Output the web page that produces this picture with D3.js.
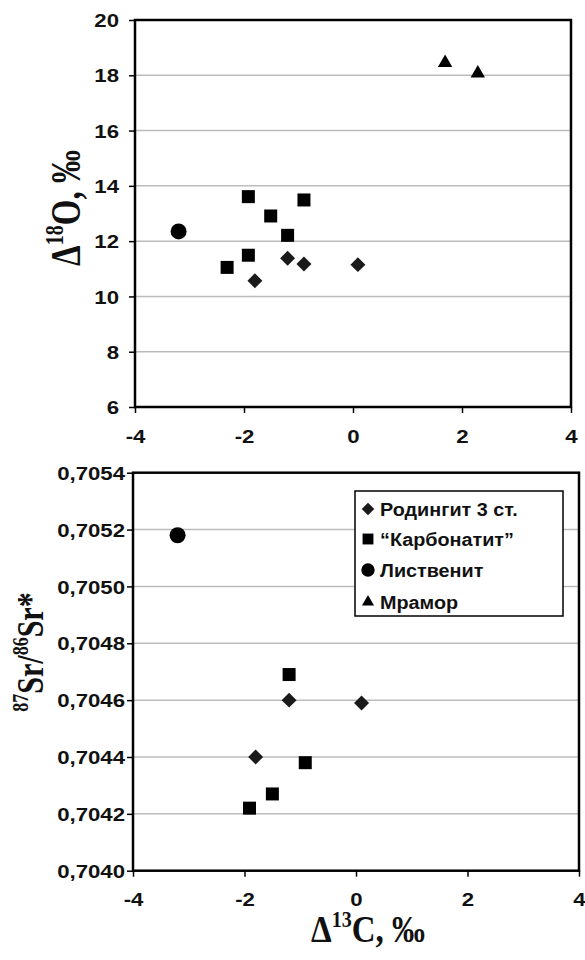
<!DOCTYPE html>
<html><head><meta charset="utf-8">
<script src="https://cdn.jsdelivr.net/npm/d3@7"></script>
<style>body{margin:0;background:#fff}svg{display:block}</style>
</head><body>
<svg id="c" width="585" height="960"></svg>
<script>
// ---- data ----
const seriesNames = ["Родингит 3 ст.", "\u201CКарбонатит\u201D", "Лиственит", "Мрамор"];
const symbols = ["diamond", "square", "circle", "triangle"];

// top panel: d13C vs d18O
const rodingiteO = [[-1.2, 11.38], [-0.9, 11.17], [-1.8, 10.57], [0.09, 11.15]];
const carbonatiteO = [[-1.92, 13.61], [-1.51, 12.91], [-0.9, 13.49], [-1.2, 12.21], [-1.92, 11.49], [-2.31, 11.05]];
const listveniteO = [[-3.2, 12.35]];
const marbleO = [[1.69, 18.45], [2.29, 18.07]];

// bottom panel: d13C vs 87Sr/86Sr
const rodingiteSr = [[-1.2, 0.70460], [-1.8, 0.70440], [0.1, 0.70459]];
const carbonatiteSr = [[-1.2, 0.70469], [-1.5, 0.70427], [-1.91, 0.70422], [-0.91, 0.70438]];
const listveniteSr = [[-3.2, 0.70518]];
const marbleSr = [];

const xTicks = [-4, -2, 0, 2, 4];
const yTicksO = [6, 8, 10, 12, 14, 16, 18, 20];
const yTicksSr = [0.7040, 0.7042, 0.7044, 0.7046, 0.7048, 0.7050, 0.7052, 0.7054];

const svg = d3.select("#c");
svg.append("rect").attr("width", 585).attr("height", 960).attr("fill", "#fff");

function symPath(kind, scale) {
  const s = scale || 1;
  if (kind === "diamond") return d3.symbol(d3.symbolSquare, 112 * s)();
  if (kind === "square") return d3.symbol(d3.symbolSquare, 169 * s)();
  if (kind === "circle") return d3.symbol(d3.symbolCircle, 201 * s)();
  return d3.symbol(d3.symbolTriangle, 90 * s)();
}
function drawMarker(g, kind, x, y, scale) {
  const p = g.append("path").attr("d", symPath(kind, scale))
    .attr("fill", kind === "diamond" ? "#1a1a1a" : "#000");
  p.attr("transform", `translate(${x},${y})` + (kind === "diamond" ? " rotate(45)" : ""));
}

const SX = 1.2; // horizontal stretch of tick text
const fmtX = d => String(d); // plain hyphen-minus
function panel(opt) {
  const x = d3.scaleLinear().domain([-4, 4]).range(opt.xr);
  const y = d3.scaleLinear().domain(opt.yd).range(opt.yr);
  const g = svg.append("g");
  // grid
  g.selectAll(".grid").data(opt.yTicks.slice(1, -1)).join("line")
    .attr("x1", opt.xr[0]).attr("x2", opt.xr[1])
    .attr("y1", d => y(d)).attr("y2", d => y(d))
    .attr("stroke", "#bcbcbc").attr("stroke-width", 1.5);
  // axes
  const ax = g.append("g").attr("transform", `translate(0,${opt.yr[0]})`)
    .call(d3.axisBottom(x).tickValues(xTicks).tickSize(6).tickPadding(opt.xPad).tickFormat(fmtX));
  const ay = g.append("g").attr("transform", `translate(${opt.xr[0]},0)`)
    .call(d3.axisLeft(y).tickValues(opt.yTicks).tickSize(6).tickFormat(opt.yFmt));
  [ax, ay].forEach(a => {
    a.select(".domain").remove();
    a.selectAll(".tick line").attr("stroke", "#000").attr("stroke-width", 1.5);
    a.selectAll(".tick text").attr("fill", "#111")
      .attr("font-family", "Liberation Sans, Arial, sans-serif")
      .attr("font-weight", "bold").attr("font-size", 18.5);
  });
  ax.selectAll(".tick text").attr("transform", `scale(${SX},1)`).attr("x", 0);
  ay.selectAll(".tick text").attr("transform", `scale(${SX},1)`).attr("x", -opt.yGap / SX).attr("dy", "0.36em");
  // frame
  g.append("rect").attr("x", opt.xr[0]).attr("y", opt.yr[1])
    .attr("width", opt.xr[1] - opt.xr[0]).attr("height", opt.yr[0] - opt.yr[1])
    .attr("fill", "none").attr("stroke", "#000").attr("stroke-width", 2.5);
  // points
  opt.series.forEach((pts, i) => {
    pts.forEach(p => drawMarker(g, symbols[i], x(p[0]), y(p[1])));
  });
  return g;
}

panel({ xr: [135, 571], yr: [407, 20], yd: [6, 20], yTicks: yTicksO,
  yFmt: d3.format("d"), xPad: 17, yGap: 16,
  series: [rodingiteO, carbonatiteO, listveniteO, marbleO] });

panel({ xr: [133, 579], yr: [870.7, 472.7], yd: [0.7040, 0.7054], yTicks: yTicksSr,
  yFmt: d => d3.format(".4f")(d).replace(".", ","), xPad: 16, yGap: 8,
  series: [rodingiteSr, carbonatiteSr, listveniteSr, marbleSr] });

// legend
const lg = svg.append("g");
lg.append("rect").attr("x", 355).attr("y", 491).attr("width", 208).attr("height", 125)
  .attr("fill", "#fff").attr("stroke", "#000").attr("stroke-width", 1.5);
const ly = [509, 539, 570, 602];
seriesNames.forEach((n, i) => {
  drawMarker(lg, symbols[i], 368, ly[i], 0.7);
  lg.append("text").attr("transform", `translate(380,${ly[i]}) scale(1.07,1)`).attr("dy", "0.36em")
    .attr("font-family", "Liberation Sans, Arial, sans-serif").attr("font-weight", "bold")
    .attr("font-size", 18.5).attr("fill", "#111").text(n);
});

// axis titles
const serif = "Liberation Serif, Times New Roman, serif";
const t1 = svg.append("text").attr("transform", "translate(80,208) rotate(-90) scale(1,1.3)")
  .attr("text-anchor", "middle").attr("font-family", serif).attr("font-weight", "bold")
  .attr("font-size", 33).attr("fill", "#111");
t1.append("tspan").text("\u0394");
t1.append("tspan").attr("font-size", 20).attr("dy", -13).text("18");
t1.append("tspan").attr("dy", 13).text("O, \u2030");

const t2 = svg.append("text").attr("transform", "translate(43,652) rotate(-90) scale(1,1.25)")
  .attr("text-anchor", "middle").attr("font-family", serif).attr("font-weight", "bold")
  .attr("font-size", 30).attr("fill", "#111");
t2.append("tspan").attr("font-size", 18).attr("dy", -12).text("87");
t2.append("tspan").attr("dy", 12).text("Sr/");
t2.append("tspan").attr("font-size", 18).attr("dy", -12).text("86");
t2.append("tspan").attr("dy", 12).text("Sr*");

const t3 = svg.append("text").attr("transform", "translate(368,942) scale(1,1.12)")
  .attr("text-anchor", "middle").attr("font-family", serif).attr("font-weight", "bold")
  .attr("font-size", 33).attr("fill", "#111");
t3.append("tspan").text("\u0394");
t3.append("tspan").attr("font-size", 20).attr("dy", -13).text("13");
t3.append("tspan").attr("dy", 13).text("C, \u2030");
</script>
</body></html>
